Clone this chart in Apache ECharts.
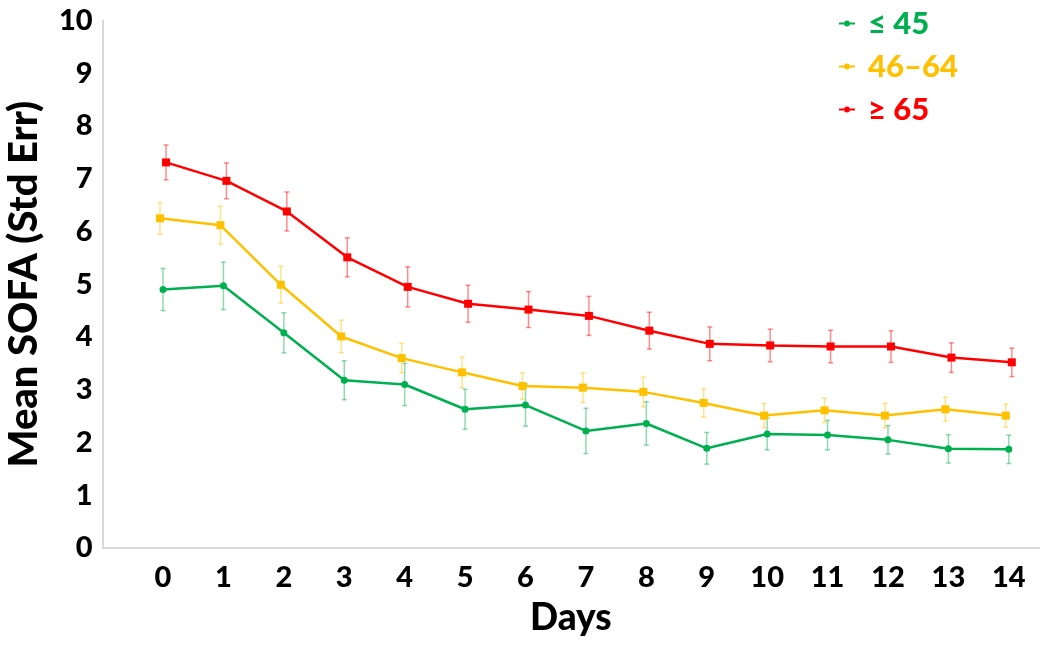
<!DOCTYPE html>
<html>
<head>
<meta charset="utf-8">
<script src="https://cdn.jsdelivr.net/npm/echarts@6/dist/echarts.min.js"></script>
<style>
  html, body { margin: 0; padding: 0; background: #fff; }
  #chart { width: 1050px; height: 649px; }
</style>
</head>
<body>
<div id="chart"></div>
<script>
// days on the x axis
const days = [0, 1, 2, 3, 4, 5, 6, 7, 8, 9, 10, 11, 12, 13, 14];

// mean SOFA per age group
const mean45 = [4.90, 4.97, 4.08, 3.18, 3.10, 2.63, 2.71, 2.22, 2.36, 1.89, 2.16, 2.14, 2.05, 1.88, 1.87];
const mean4664 = [6.25, 6.12, 4.99, 4.01, 3.60, 3.33, 3.07, 3.04, 2.96, 2.75, 2.51, 2.61, 2.51, 2.63, 2.51];
const mean65 = [7.31, 6.96, 6.38, 5.51, 4.95, 4.63, 4.52, 4.40, 4.12, 3.87, 3.84, 3.82, 3.82, 3.61, 3.52];

// standard errors
const se45 = [0.40, 0.45, 0.38, 0.37, 0.40, 0.38, 0.40, 0.43, 0.41, 0.30, 0.30, 0.28, 0.27, 0.27, 0.27];
const se4664 = [0.30, 0.36, 0.35, 0.31, 0.28, 0.29, 0.25, 0.28, 0.28, 0.27, 0.23, 0.23, 0.23, 0.23, 0.22];
const se65 = [0.33, 0.34, 0.37, 0.37, 0.38, 0.35, 0.34, 0.37, 0.35, 0.32, 0.31, 0.31, 0.30, 0.28, 0.27];

const groupNames = ['≤ 45', '46–64', '≥ 65'];
const yTicks = [0, 1, 2, 3, 4, 5, 6, 7, 8, 9, 10];

const FONT = 'Lato, "Open Sans", sans-serif';
const colors = ['#00b050', '#ffc000', '#ff0000'];
const dodge = [0, -0.05, 0.05]; // small horizontal shift per group, like the original
const symbols = ['circle', 'rect', 'rect'];

const groups = [
  { name: groupNames[0], mean: mean45, se: se45 },
  { name: groupNames[1], mean: mean4664, se: se4664 },
  { name: groupNames[2], mean: mean65, se: se65 }
];

const lineSeries = groups.map((g, i) => ({
  name: g.name,
  type: 'line',
  z: 3,
  symbol: symbols[i],
  symbolSize: i === 0 ? 7 : 8,
  data: days.map((d, k) => [d + dodge[i], g.mean[k]]),
  lineStyle: { color: colors[i], width: 2.5 },
  itemStyle: { color: colors[i] },
  emphasis: { disabled: true }
}));

// error bars (mean ± se) drawn via custom series
const errSeries = groups.map((g, i) => ({
  name: g.name + ' err',
  type: 'custom',
  z: 2,
  silent: true,
  data: days.map((d, k) => [d + dodge[i], g.mean[k] + g.se[k], g.mean[k] - g.se[k]]),
  renderItem: (params, api) => {
    const top = api.coord([api.value(0), api.value(1)]);
    const bot = api.coord([api.value(0), api.value(2)]);
    const cap = 2.5;
    const style = { stroke: colors[i], lineWidth: 1.5, opacity: 0.45 };
    return {
      type: 'group',
      children: [
        { type: 'line', shape: { x1: top[0], y1: top[1], x2: bot[0], y2: bot[1] }, style },
        { type: 'line', shape: { x1: top[0] - cap, y1: top[1], x2: top[0] + cap, y2: top[1] }, style },
        { type: 'line', shape: { x1: bot[0] - cap, y1: bot[1], x2: bot[0] + cap, y2: bot[1] }, style }
      ]
    };
  }
}));

const chart = echarts.init(document.getElementById('chart'));
chart.setOption({
  animation: false,
  backgroundColor: '#fff',
  grid: { left: 102.6, right: 11, top: 20.5, bottom: 101, containLabel: false, outerBoundsMode: 'none' },
  legend: {
    orient: 'vertical',
    left: 834,
    top: 3,
    itemGap: 12,
    itemWidth: 16,
    itemHeight: 6,
    selectedMode: false,
    data: groupNames.map((n, i) => ({
      name: n,
      icon: 'path://M0,3h5v2h-5z M11,3h5v2h-5z M5,4a3,3 0 1,0 6,0a3,3 0 1,0 -6,0z',
      itemStyle: { color: colors[i], borderWidth: 0 },
      textStyle: { color: colors[i], fontFamily: FONT, fontWeight: 900, fontSize: 31, padding: [0, 0, 0, 8] }
    }))
  },
  xAxis: {
    type: 'value',
    min: -1,
    max: 14.5,
    interval: 1,
    name: 'Days',
    nameLocation: 'middle',
    nameGap: 52,
    nameTextStyle: { color: '#000', fontFamily: FONT, fontWeight: 900, fontSize: 37 },
    axisLine: { show: true, onZero: false, lineStyle: { color: '#d9d9d9', width: 2 } },
    axisTick: { show: false },
    splitLine: { show: false },
    axisLabel: {
      color: '#000', fontFamily: FONT, fontWeight: 900, fontSize: 29, margin: 15,
      showMaxLabel: false,
      formatter: v => (days.indexOf(v) >= 0 ? String(v) : '')
    }
  },
  yAxis: {
    type: 'value',
    min: yTicks[0],
    max: yTicks[yTicks.length - 1],
    interval: 1,
    name: 'Mean SOFA (Std Err)',
    nameLocation: 'middle',
    nameGap: 59,
    nameTextStyle: { color: '#000', fontFamily: FONT, fontWeight: 900, fontSize: 40 },
    axisLine: { show: true, onZero: false, lineStyle: { color: '#d9d9d9', width: 2 } },
    axisTick: { show: false },
    splitLine: { show: false },
    axisLabel: { color: '#000', fontFamily: FONT, fontWeight: 900, fontSize: 29, margin: 10 }
  },
  series: lineSeries.concat(errSeries)
});
</script>
</body>
</html>
